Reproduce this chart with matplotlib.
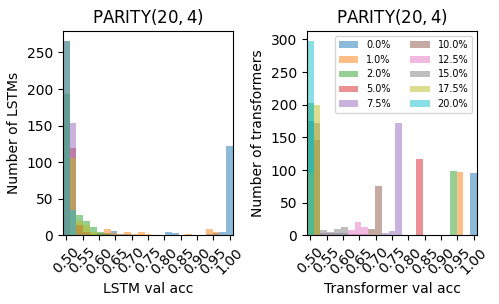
import numpy as np
import matplotlib
matplotlib.use("Agg")
import matplotlib.pyplot as plt

# 25 equal bins over the val-acc range
BIN_EDGES = np.linspace(0.49, 1.01, 26)
NOISE_LABELS = ["0.0%", "1.0%", "2.0%", "5.0%", "7.5%",
                "10.0%", "12.5%", "15.0%", "17.5%", "20.0%"]
XTICKS = [0.50, 0.55, 0.60, 0.65, 0.70, 0.75, 0.80, 0.85, 0.90, 0.95, 1.00]

# counts per bin, one row per noise level
LSTM_COUNTS = [
    [0, 0, 0, 0, 0, 2, 3, 6, 2, 2, 1, 1, 1, 1, 1, 4, 3, 0, 0, 1, 1, 2, 3, 4, 122],
    [0, 0, 0, 0, 2, 3, 8, 3, 2, 4, 2, 4, 2, 1, 1, 1, 0, 0, 2, 1, 1, 8, 5, 0, 0],
    [193, 0, 28, 19, 11, 4, 2, 1, 0, 0, 0, 0, 0, 0, 0, 0, 0, 0, 0, 1, 1, 1, 0, 0, 0],
    [266, 120, 14, 5, 1, 1, 0, 0, 0, 0, 0, 0, 0, 0, 0, 0, 0, 0, 0, 0, 0, 0, 0, 0, 0],
    [0, 154, 3, 2, 1, 0, 0, 0, 0, 0, 0, 0, 0, 0, 0, 0, 0, 0, 0, 0, 0, 0, 0, 0, 0],
    [0, 0, 2, 1, 0, 0, 0, 0, 0, 0, 0, 0, 0, 0, 0, 0, 0, 0, 0, 0, 0, 0, 0, 0, 0],
    [0, 0, 2, 1, 0, 0, 0, 0, 0, 0, 0, 0, 0, 0, 0, 0, 0, 0, 0, 0, 0, 0, 0, 0, 0],
    [0, 0, 2, 1, 0, 0, 0, 0, 0, 0, 0, 0, 0, 0, 0, 0, 0, 0, 0, 0, 0, 0, 0, 0, 0],
    [0, 106, 20, 14, 4, 1, 0, 0, 0, 0, 0, 0, 0, 0, 0, 0, 0, 0, 0, 0, 0, 0, 0, 0, 0],
    [265, 35, 0, 0, 0, 0, 0, 0, 0, 0, 0, 0, 0, 0, 0, 0, 0, 0, 0, 0, 0, 0, 0, 0, 0],
]
TRANSFORMER_COUNTS = [
    [175, 0, 0, 0, 0, 0, 0, 0, 0, 0, 0, 0, 0, 0, 0, 0, 0, 0, 0, 0, 0, 0, 0, 0, 96],
    [0, 0, 0, 0, 0, 0, 0, 0, 0, 0, 0, 0, 0, 0, 0, 0, 0, 0, 0, 0, 0, 0, 97, 0, 0],
    [203, 0, 0, 0, 0, 0, 0, 0, 0, 0, 0, 0, 0, 0, 0, 0, 0, 0, 0, 0, 0, 98, 0, 0, 0],
    [0, 0, 0, 0, 0, 0, 0, 0, 0, 0, 0, 0, 0, 0, 0, 0, 117, 0, 0, 0, 0, 0, 0, 0, 0],
    [0, 0, 3, 3, 3, 3, 2, 2, 2, 1, 0, 3, 6, 172, 0, 0, 0, 0, 0, 0, 0, 0, 0, 0, 0],
    [0, 146, 0, 0, 0, 0, 0, 0, 0, 9, 76, 0, 0, 0, 0, 0, 0, 0, 0, 0, 0, 0, 0, 0, 0],
    [0, 0, 0, 0, 0, 0, 8, 21, 12, 0, 0, 0, 0, 0, 0, 0, 0, 0, 0, 0, 0, 0, 0, 0, 0],
    [0, 172, 8, 5, 9, 12, 0, 0, 0, 0, 0, 0, 0, 0, 0, 0, 0, 0, 0, 0, 0, 0, 0, 0, 0],
    [95, 200, 0, 0, 0, 0, 0, 0, 0, 0, 0, 0, 0, 0, 0, 0, 0, 0, 0, 0, 0, 0, 0, 0, 0],
    [298, 0, 0, 0, 0, 0, 0, 0, 0, 0, 0, 0, 0, 0, 0, 0, 0, 0, 0, 0, 0, 0, 0, 0, 0],
]


def draw_panel(ax, counts, xlabel, ylabel):
    centers = (BIN_EDGES[:-1] + BIN_EDGES[1:]) / 2
    for i, row in enumerate(counts):
        ax.hist(centers, bins=BIN_EDGES, weights=row, alpha=0.5,
                color=f"C{i}", label=NOISE_LABELS[i])
    ax.set_xlim(BIN_EDGES[0], BIN_EDGES[-1])
    ax.set_xticks(XTICKS)
    ax.set_xticklabels([f"{t:.2f}" for t in XTICKS], rotation=45)
    ax.set_title(r"$\mathrm{PARITY}(20, 4)$", fontsize=12)
    ax.set_xlabel(xlabel, fontsize=10)
    ax.set_ylabel(ylabel, fontsize=10)


fig = plt.figure(figsize=(4.99, 3.04), dpi=100)
ax1 = fig.add_axes([0.126, 0.226, 0.341, 0.672])
ax2 = fig.add_axes([0.615, 0.226, 0.341, 0.672])

draw_panel(ax1, LSTM_COUNTS, "LSTM val acc", "Number of LSTMs")
draw_panel(ax2, TRANSFORMER_COUNTS, "Transformer val acc", "Number of transformers")
ax2.legend(ncol=2, loc="upper right", fontsize=7)

fig.savefig("out.png", dpi=100)
